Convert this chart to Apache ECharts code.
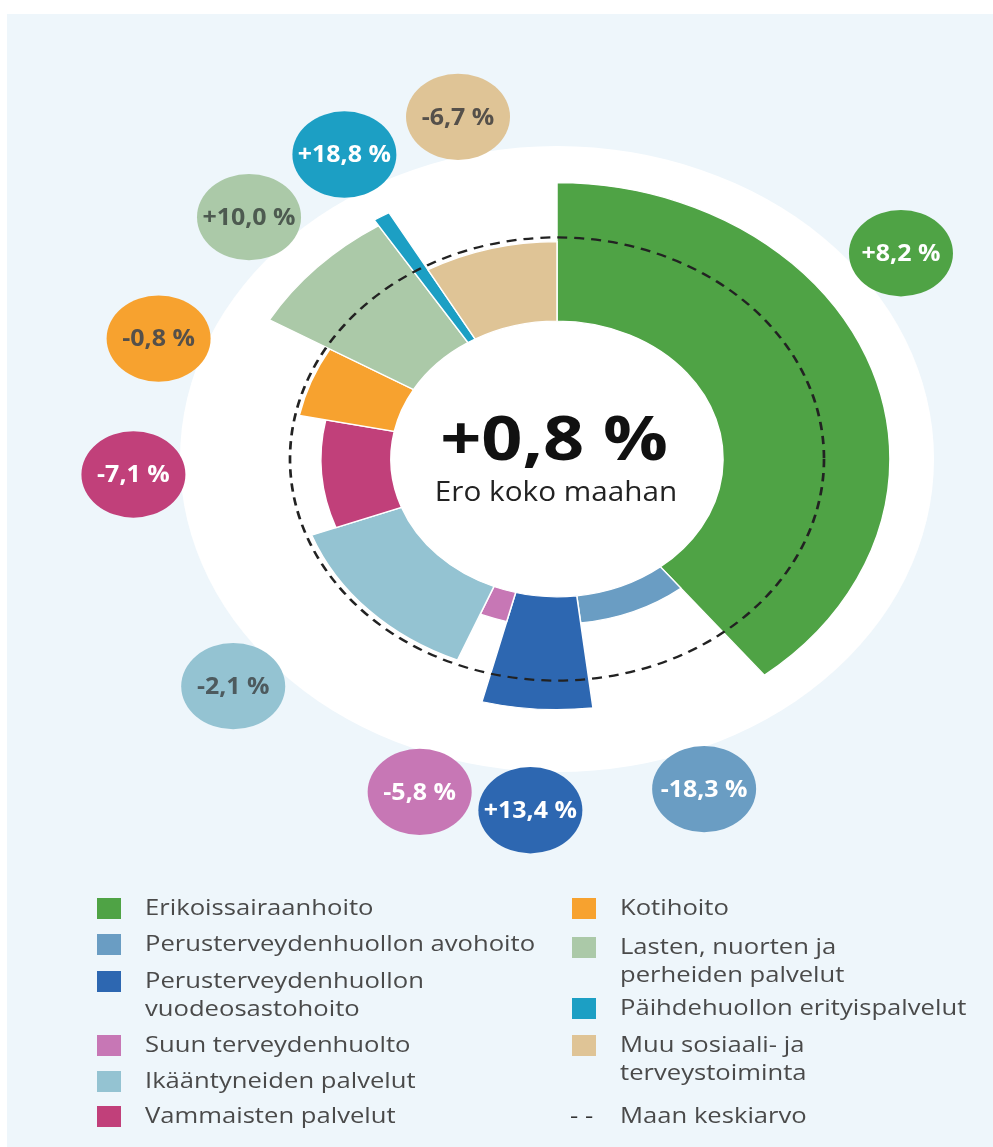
<!DOCTYPE html>
<html>
<head>
<meta charset="utf-8">
<script src="https://cdn.jsdelivr.net/npm/echarts@6/dist/echarts.min.js"></script>
<style>
  html, body { margin: 0; padding: 0; background: #fff; }
  #chart { width: 993px; height: 1147px; }
</style>
</head>
<body>
<div id="chart"></div>
<script>
// data (angle share in %, radius relative to national average = 100)
const categories = [
  "Erikoissairaanhoito",
  "Perusterveydenhuollon avohoito",
  "Perusterveydenhuollon vuodeosastohoito",
  "Suun terveydenhuolto",
  "Ikääntyneiden palvelut",
  "Vammaisten palvelut",
  "Kotihoito",
  "Lasten, nuorten ja perheiden palvelut",
  "Päihdehuollon erityispalvelut",
  "Muu sosiaali- ja terveystoiminta",
];
const shares = [39.3, 8.8, 5.9, 2.2, 13.1, 8.9, 5.2, 7.6, 0.8, 8.2];
const radii = [124.7, 74.5, 113.1, 75.7, 98.1, 88.4, 98.5, 124.7, 127.7, 98.1];
const diffs = ["+8,2 %", "-18,3 %", "+13,4 %", "-5,8 %", "-2,1 %", "-7,1 %", "-0,8 %", "+10,0 %", "+18,8 %", "-6,7 %"];
const totalDiff = "+0,8 %";
const totalText = "Ero koko maahan";
const averageRadius = 100;
const averageName = "Maan keskiarvo";

// legend wording with the picture's line breaks
const legendNames = [
  "Erikoissairaanhoito",
  "Perusterveydenhuollon avohoito",
  "Perusterveydenhuollon\nvuodeosastohoito",
  "Suun terveydenhuolto",
  "Ikääntyneiden palvelut",
  "Vammaisten palvelut",
  "Kotihoito",
  "Lasten, nuorten ja\nperheiden palvelut",
  "Päihdehuollon erityispalvelut",
  "Muu sosiaali- ja\nterveystoiminta",
];

const colors = ["#4fa345", "#6a9dc3", "#2d67b1", "#c777b5", "#94c3d2", "#c1407a", "#f7a22f", "#abc9a8", "#1c9fc4", "#dfc496"];
const bubbleText = ["#fff", "#fff", "#fff", "#fff", "#4d5a5e", "#fff", "#55504a", "#4d5a50", "#fff", "#55504a"];
// where each bubble sits, angle in the same % units
const bubbleAngle = [15.06, 44.36, 51.0, 55.25, 63.83, 74.3, 80.56, 87.06, 91.64, 96.25];
const bubbleRadius = 158.8;
const innerRadius = 62.2;
const discRadius = 141.2;

const CX = 557, CY = 459, SQUISH = 0.83, STRETCH = 1.22;

// cumulative angle ranges
const sectors = [];
let acc = 0;
shares.forEach((s, i) => {
  sectors.push({ name: categories[i], value: [acc, acc + s, radii[i]] });
  acc += s;
});

function geom(params) {
  const cs = params.coordSys;
  return {
    cx: cs.cx,
    cy: cs.cy,
    dist: (p) => Math.hypot(p[0] - cs.cx, p[1] - cs.cy),
    ang: (p) => Math.atan2(p[1] - cs.cy, p[0] - cs.cx),
  };
}

function renderSector(params, api) {
  const g = geom(params);
  const a = api.value(0), b = api.value(1), r = api.value(2);
  const p0 = api.coord([r, a]);
  const p1 = api.coord([r, b]);
  const pi = api.coord([innerRadius, a]);
  let s = g.ang(p0), e = g.ang(p1);
  if (e <= s) e += Math.PI * 2;
  return {
    type: "sector",
    originX: g.cx, originY: g.cy, scaleY: SQUISH,
    shape: { cx: g.cx, cy: g.cy, r0: g.dist(pi), r: g.dist(p0), startAngle: s, endAngle: e, clockwise: true },
    style: { fill: colors[params.dataIndex], stroke: "#fff", lineWidth: 1.5 },
  };
}

function renderRing(fill, dashed) {
  return function (params, api) {
    const g = geom(params);
    const p = api.coord([api.value(0), 0]);
    return {
      type: "circle",
      originX: g.cx, originY: g.cy, scaleY: SQUISH,
      shape: { cx: g.cx, cy: g.cy, r: g.dist(p) },
      style: dashed
        ? { fill: null, stroke: "#222", lineWidth: 2.7, lineDash: [10, 7] }
        : { fill: fill },
    };
  };
}

function renderBubble(params, api) {
  const g = geom(params);
  const i = params.dataIndex;
  const p = api.coord([api.value(0), api.value(1)]);
  const x = p[0], y = g.cy + (p[1] - g.cy) * SQUISH;
  return {
    type: "group",
    children: [
      {
        type: "circle",
        originX: x, originY: y, scaleY: SQUISH,
        shape: { cx: x, cy: y, r: 52 },
        style: { fill: colors[i] },
      },
      {
        type: "text",
        x: x, y: y + 1, scaleX: 1.04,
        style: {
          text: diffs[i], fill: bubbleText[i],
          font: "bold 24px 'Open Sans'", align: "center", verticalAlign: "middle",
        },
      },
    ],
  };
}

// legend: two columns built from the arrays
const legendGraphics = [];
const leftRows = [909, 945, 982, 1046, 1082, 1117];
const rightRows = [909, 948, 1009, 1046];
const legendFont = "21px 'Open Sans'";
function legendItem(i, x, y) {
  legendGraphics.push({
    type: "rect", x: x, y: y - 11, z: 100,
    shape: { width: 24, height: 21 }, style: { fill: colors[i] },
  });
  legendGraphics.push({
    type: "text", x: x + 48, y: y - 14, scaleX: STRETCH, z: 100,
    style: { text: legendNames[i], font: legendFont, fill: "#4a4a4a", lineHeight: 28, verticalAlign: "top" },
  });
}
for (let i = 0; i < 6; i++) legendItem(i, 97, leftRows[i]);
for (let i = 6; i < 10; i++) legendItem(i, 572, rightRows[i - 6]);
legendGraphics.push({
  type: "text", x: 570, y: 1117 - 14, scaleX: STRETCH, z: 100,
  style: { text: "- -", font: legendFont, fill: "#333", lineHeight: 28, verticalAlign: "top" },
});
legendGraphics.push({
  type: "text", x: 620, y: 1117 - 14, scaleX: STRETCH, z: 100,
  style: { text: averageName, font: legendFont, fill: "#4a4a4a", lineHeight: 28, verticalAlign: "top" },
});

const chart = echarts.init(document.getElementById("chart"), null, { renderer: "canvas" });

const option = {
  backgroundColor: "#fff",
  animation: false,
  polar: { center: [CX, CY], radius: [0, 480.6] },
  angleAxis: { type: "value", min: 0, max: 100, startAngle: 90, clockwise: true, show: false },
  radiusAxis: { type: "value", min: 0, max: 180, show: false },
  graphic: [
    { type: "rect", x: 7, y: 14, z: -10, shape: { width: 986, height: 1133 }, style: { fill: "#eef6fb" } },
    {
      type: "text", x: CX - 3, y: 443, scaleX: 1.2, z: 100,
      style: { text: totalDiff, font: "bold 60px 'Open Sans'", fill: "#111", align: "center", verticalAlign: "middle" },
    },
    {
      type: "text", x: CX - 1, y: 493, scaleX: 1.1, z: 100,
      style: { text: totalText, font: "27px 'Open Sans'", fill: "#222", align: "center", verticalAlign: "middle" },
    },
    ...legendGraphics,
  ],
  series: [
    { type: "custom", coordinateSystem: "polar", z: 1, silent: true, data: [[discRadius]], renderItem: renderRing("#fff", false) },
    { type: "custom", coordinateSystem: "polar", z: 2, data: sectors, renderItem: renderSector },
    { type: "custom", coordinateSystem: "polar", z: 3, silent: true, data: [[averageRadius]], renderItem: renderRing(null, true) },
    {
      type: "custom", coordinateSystem: "polar", z: 4,
      data: bubbleAngle.map((a) => [bubbleRadius, a]),
      renderItem: renderBubble,
    },
  ],
};

chart.setOption(option);
</script>
</body>
</html>
